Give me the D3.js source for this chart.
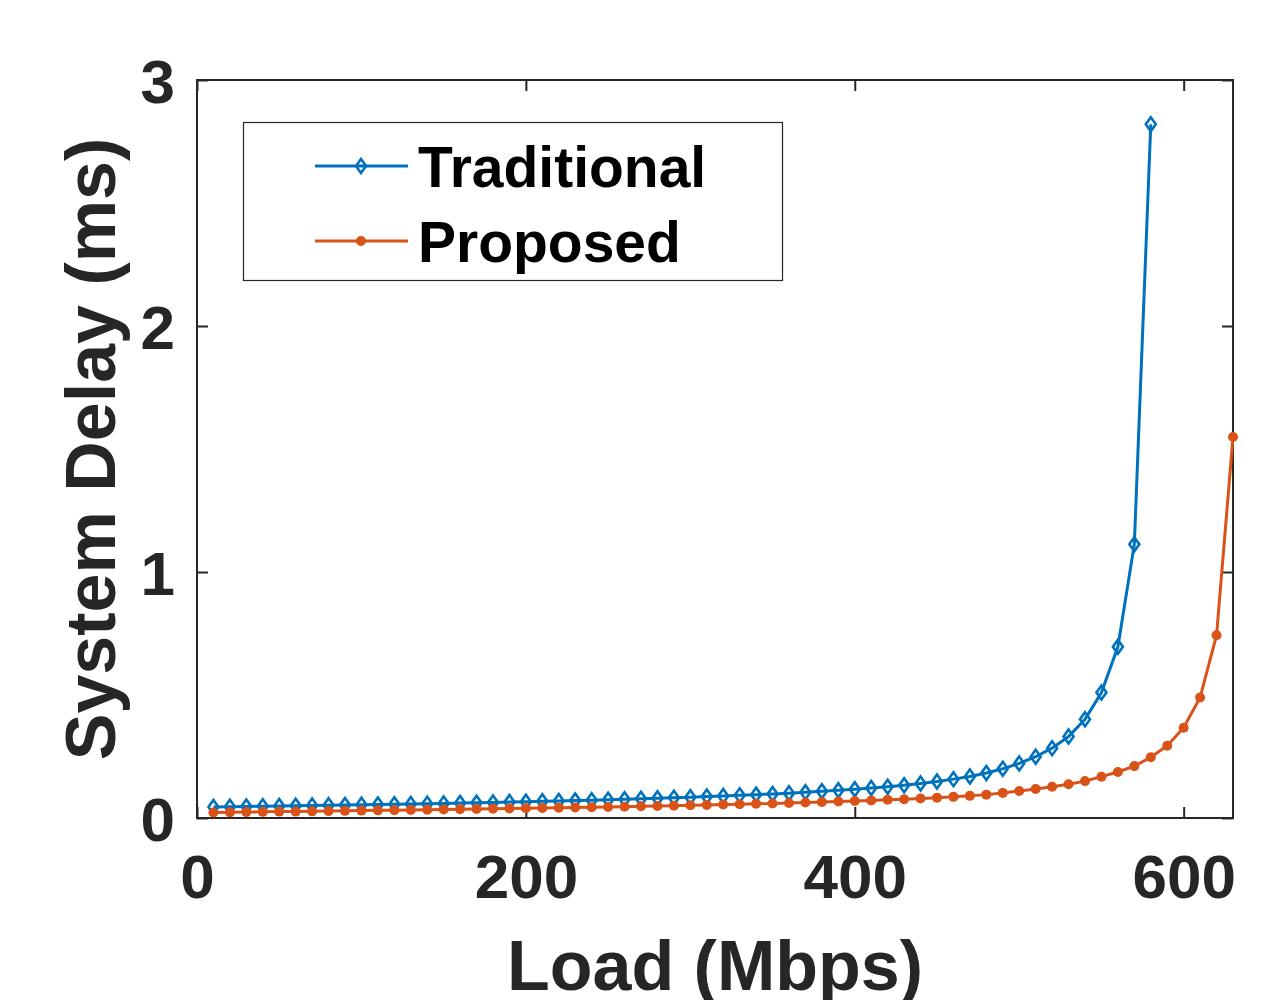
<!DOCTYPE html>
<html><head><meta charset="utf-8">
<script src="https://cdn.jsdelivr.net/npm/d3@7"></script>
<style>body{margin:0;background:#fff}svg{display:block}</style>
</head><body>
<svg id="c" width="1272" height="1000"></svg>
<script>
const loadTrad = d3.range(10, 581, 10);
const delayTrad = [0.045,0.046,0.047,0.048,0.049,0.050,0.051,0.052,0.053,0.054,
0.055,0.056,0.057,0.058,0.059,0.061,0.062,0.063,0.065,0.066,
0.068,0.069,0.071,0.072,0.074,0.076,0.078,0.080,0.082,0.084,
0.087,0.089,0.092,0.095,0.098,0.101,0.105,0.109,0.113,0.117,
0.122,0.127,0.133,0.140,0.148,0.158,0.169,0.183,0.200,0.222,
0.249,0.284,0.331,0.401,0.510,0.696,1.113,2.82];
const loadProp = d3.range(10, 631, 10);
const delayProp = [0.022,0.023,0.024,0.025,0.026,0.026,0.027,0.028,0.029,0.030,
0.031,0.032,0.033,0.034,0.035,0.036,0.037,0.038,0.039,0.040,
0.041,0.042,0.043,0.044,0.045,0.046,0.048,0.049,0.050,0.052,
0.053,0.055,0.056,0.058,0.059,0.061,0.063,0.065,0.067,0.069,
0.071,0.074,0.076,0.079,0.082,0.086,0.090,0.095,0.102,0.110,
0.118,0.127,0.137,0.150,0.168,0.187,0.211,0.247,0.294,0.367,
0.490,0.743,1.549];
const xTicks = [0,200,400,600];
const yTicks = [0,1,2,3];
const seriesNames = ["Traditional","Proposed"];

const BLUE="#0072BD", ORANGE="#D95319", AX="#262626";
const L=197, R=1233, T=80, B=818;
const svg=d3.select("#c");
const x=d3.scaleLinear().domain([0,630]).range([L,R]);
const y=d3.scaleLinear().domain([0,3]).range([B,T]);
const font="'Liberation Sans', Arial, sans-serif";

const g=svg.append("g");
g.append("rect").attr("x",L).attr("y",T).attr("width",R-L).attr("height",B-T)
 .attr("fill","none").attr("stroke",AX).attr("stroke-width",2);

const xa=svg.append("g").attr("transform",`translate(0,${B})`)
 .call(d3.axisBottom(x).tickValues(xTicks).tickSize(-11).tickPadding(36).tickFormat(d3.format("d")));
const xt=svg.append("g").attr("transform",`translate(0,${T})`)
 .call(d3.axisTop(x).tickValues(xTicks).tickSize(-11).tickFormat(""));
const ya=svg.append("g").attr("transform",`translate(${L},0)`)
 .call(d3.axisLeft(y).tickValues(yTicks).tickSize(-11).tickPadding(22).tickFormat(d3.format("d")));
const yr=svg.append("g").attr("transform",`translate(${R},0)`)
 .call(d3.axisRight(y).tickValues(yTicks).tickSize(-11).tickFormat(""));
[xa,xt,ya,yr].forEach(a=>{
  a.select(".domain").remove();
  a.selectAll(".tick line").attr("stroke",AX).attr("stroke-width",2);
  a.selectAll(".tick text").attr("fill",AX).style("font-family",font)
   .style("font-weight","bold").style("font-size","62px");
});
xa.selectAll(".tick text").attr("dy","0.71em");
ya.selectAll(".tick text").attr("dy","0.36em");

const line=d3.line().x(d=>x(d[0])).y(d=>y(d[1]));
const tradData=loadTrad.map((l,i)=>[l,delayTrad[i]]);
const propData=loadProp.map((l,i)=>[l,delayProp[i]]);

const diamond=(cx,cy)=>`M${cx},${cy-7}L${cx+5},${cy}L${cx},${cy+7}L${cx-5},${cy}Z`;

svg.append("path").datum(tradData).attr("d",line).attr("fill","none")
 .attr("stroke",BLUE).attr("stroke-width",3);
svg.append("g").selectAll("path").data(tradData).join("path")
 .attr("d",d=>diamond(x(d[0]),y(d[1]))).attr("fill","none")
 .attr("stroke",BLUE).attr("stroke-width",2.6);

svg.append("path").datum(propData).attr("d",line).attr("fill","none")
 .attr("stroke",ORANGE).attr("stroke-width",3);
svg.append("g").selectAll("circle").data(propData).join("circle")
 .attr("cx",d=>x(d[0])).attr("cy",d=>y(d[1])).attr("r",5).attr("fill",ORANGE);

const lg=svg.append("g");
lg.append("rect").attr("x",243.5).attr("y",122.5).attr("width",539).attr("height",158)
 .attr("fill","#fff").attr("stroke",AX).attr("stroke-width",1.2);
const rows=[{n:seriesNames[0],c:BLUE,y:166,m:"d"},{n:seriesNames[1],c:ORANGE,y:241,m:"o"}];
rows.forEach(r=>{
  lg.append("line").attr("x1",315).attr("x2",408).attr("y1",r.y).attr("y2",r.y)
   .attr("stroke",r.c).attr("stroke-width",3);
  if(r.m==="d") lg.append("path").attr("d",diamond(361,r.y)).attr("fill","none").attr("stroke",r.c).attr("stroke-width",2.6);
  else lg.append("circle").attr("cx",361).attr("cy",r.y).attr("r",5).attr("fill",r.c);
  lg.append("text").attr("x",418).attr("y",r.y+21).text(r.n)
   .style("font-family",font).style("font-weight","bold").style("font-size","57px").attr("fill","#000");
});

svg.append("text").attr("x",(L+R)/2).attr("y",990).attr("text-anchor","middle")
 .text("Load (Mbps)").style("font-family",font).style("font-weight","bold")
 .style("font-size","70px").attr("fill",AX);
svg.append("text").attr("transform",`translate(115,${(T+B)/2}) rotate(-90)`).attr("text-anchor","middle")
 .text("System Delay (ms)").style("font-family",font).style("font-weight","bold")
 .style("font-size","70px").attr("fill",AX);
</script>
</body></html>
